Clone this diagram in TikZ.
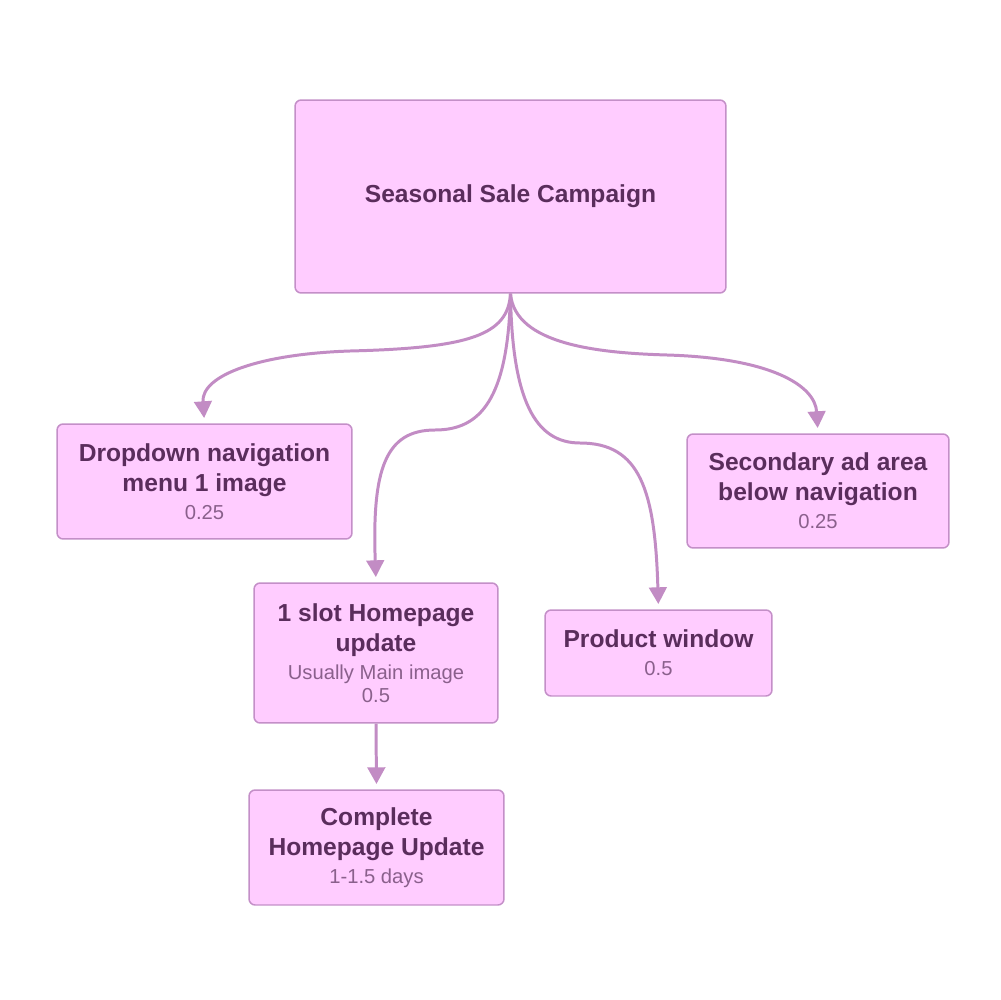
\documentclass[tikz,border=0pt]{standalone}
\usepackage{fontspec}
\setmainfont{Liberation Sans}
\usepackage{tikz}
\usetikzlibrary{arrows.meta}
\definecolor{boxfill}{HTML}{FFCCFF}
\definecolor{boxline}{HTML}{C48FC8}
\definecolor{edgecol}{HTML}{C28CC4}
\definecolor{titletext}{HTML}{5A2D5C}
\definecolor{subtext}{HTML}{8A608C}
\newcommand{\subfont}{\fontsize{11.5}{13}\selectfont\mdseries\color{subtext}}
\tikzset{%
  myedge/.style={->, >={Triangle[length=9.5pt, width=10pt]}, draw=edgecol, line width=1.7pt, shorten >=3pt},
  mybox/.style={rectangle, rounded corners=3.5pt, draw=boxline, fill=boxfill, line width=0.85pt,
    inner sep=0pt, align=center, text=titletext, font=\fontsize{14}{17}\selectfont\bfseries}
}

\begin{document}
\begin{tikzpicture}[x=0.02cm, y=-0.02cm]
\fill [white] (0,0) rectangle (1000,1000);
\useasboundingbox (0,0) rectangle (1000,1000);

\node (campaign) [mybox, minimum width=8.62cm, minimum height=3.86cm] at (510.5,196.5) {Seasonal Sale Campaign};
\node (dropdown) [mybox, minimum width=5.9cm, minimum height=2.3cm] at (204.5,481.5)
  {Dropdown navigation\\ menu 1 image\\[-1pt] {\subfont 0.25}};
\node (secondary) [mybox, minimum width=5.24cm, minimum height=2.28cm] at (818,491)
  {Secondary ad area\\ below navigation\\[-1pt] {\subfont 0.25}};
\node (slot) [mybox, minimum width=4.88cm, minimum height=2.8cm] at (376,653)
  {1 slot Homepage\\ update\\[-1pt] {\subfont Usually Main image}\\[-4pt] {\subfont 0.5}};
\node (window) [mybox, minimum width=4.54cm, minimum height=1.72cm] at (658.5,653)
  {Product window\\[-1pt] {\subfont 0.5}};
\node (complete) [mybox, minimum width=5.1cm, minimum height=2.3cm] at (376.5,847.5)
  {Complete\\ Homepage Update\\[-1pt] {\subfont 1-1.5 days}};

% edges
\draw [myedge] (campaign.south) .. controls (508,335) and (470,348) .. (350,351)
  .. controls (260,354) and (201,375) .. (dropdown.north);
\draw [myedge] (campaign.south) .. controls (508,400) and (480,430) .. (435,430)
  .. controls (385,430) and (372,470) .. (slot.north);
\draw [myedge] (campaign.south) .. controls (512,400) and (535,443) .. (580,443)
  .. controls (640,443) and (655,490) .. (window.north);
\draw [myedge] (campaign.south) .. controls (515,345) and (600,353) .. (667,355)
  .. controls (770,358) and (815,385) .. (secondary.north);
\draw [myedge] (slot.south) -- (complete.north);
\end{tikzpicture}
\end{document}
